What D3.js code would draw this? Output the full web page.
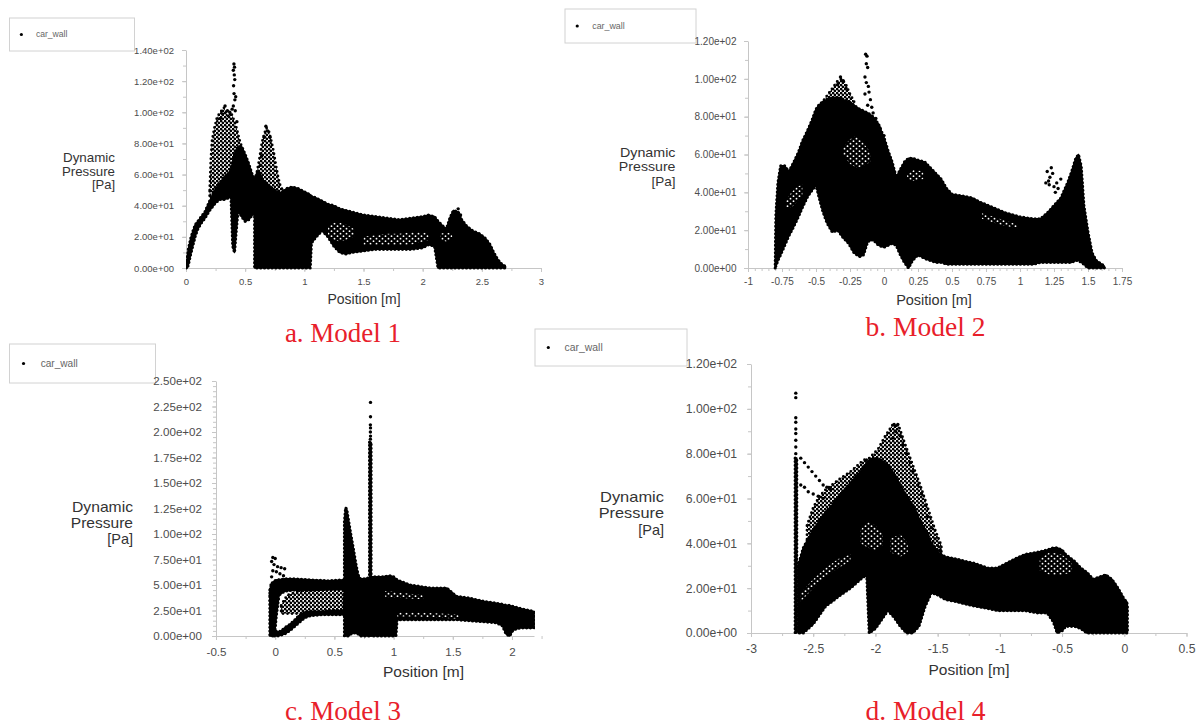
<!DOCTYPE html>
<html>
<head>
<meta charset="utf-8">
<script src="https://cdn.jsdelivr.net/npm/d3@7"></script>
<style>
  html, body { margin: 0; padding: 0; background: #fff; }
  svg { display: block; }
</style>
</head>
<body>
<svg id="chart" width="1200" height="728"></svg>
<script>
// ---------------------------------------------------------------
// Wall dynamic pressure vs. position, four car models.
// Dense clouds are given as envelopes [x, low, high] (m, Pa),
// medium-density clouds likewise, gaps inside the dense clouds
// likewise, and isolated wall samples as [x, y].
// ---------------------------------------------------------------

const seriesName = "car_wall";
const captions = ["a. Model 1", "b. Model 2", "c. Model 3", "d. Model 4"];

// ---- Model 1 ----
const model1XTicks = [0, 0.5, 1, 1.5, 2, 2.5, 3];
const model1YTicks = [0, 20, 40, 60, 80, 100, 120, 140];
const model1Dense = [
  [[0,0,0],[0.01,0,6],[0.02,2,12],[0.04,9,19],[0.06,15,24],[0.08,21,28],[0.1,25,30],[0.13,29,33],[0.16,32,36],[0.2,37,43],[0.24,41,49],[0.28,44,54],[0.32,44,58],[0.36,45,61],[0.38,46,63]],
  [[0.38,46,63],[0.395,14,68],[0.41,10,73],[0.425,24,76],[0.44,37,78],[0.47,33,78],[0.5,30,73],[0.53,31,67],[0.56,34,60],[0.58,35,57]],
  [[0.58,0,57],[0.6,0,61],[0.62,0,62],[0.65,0,56],[0.7,0,53],[0.75,0,50],[0.8,0,48],[0.85,0,51],[0.9,0,52],[0.95,0,51],[1.0,0,49],[1.05,0,47],[1.06,16,46],[1.1,20,45],[1.15,24,43],[1.2,20,41],[1.25,14,40],[1.3,10,38],[1.35,9,37],[1.4,10,36],[1.5,11,34],[1.6,12,33],[1.7,12,32],[1.8,12,31],[1.9,12,32],[2.0,13,33],[2.05,15,34],[2.1,14,33],[2.13,0,30],[2.17,0,27],[2.2,0,25],[2.23,0,32],[2.26,0,37],[2.3,0,36],[2.33,0,31],[2.37,0,27],[2.42,0,24],[2.48,0,22],[2.53,0,19],[2.57,0,15],[2.6,0,10],[2.63,0,6],[2.66,0,3],[2.7,0,1]]
];
const model1Sparse = [
  [[0.2,45,50],[0.21,47,70],[0.22,48,82],[0.24,50,90],[0.26,52,96],[0.28,55,99],[0.3,56,101],[0.32,58,103],[0.34,59,100],[0.36,60,97],[0.38,62,100],[0.4,68,96],[0.42,74,92],[0.44,77,86],[0.46,77,80],[0.48,76,77]],
  [[0.6,58,62],[0.62,58,70],[0.64,56,80],[0.66,55,86],[0.68,53,90],[0.7,52,88],[0.72,51,82],[0.74,50,75],[0.76,49,66],[0.78,48,58],[0.8,48,52],[0.82,49,50]]
];
const model1Gaps = [
  [[1.2,21,27],[1.25,18,29],[1.3,17,29],[1.35,18,28],[1.42,20,25]],
  [[1.5,15,20],[1.6,15,21],[1.7,15,22],[1.8,15,22],[1.9,15,23],[2.0,17,23],[2.05,18,22]],
  [[2.15,18,22],[2.2,17,23],[2.25,19,22]]
];
const model1Points = [
  [0.405,131],[0.41,129],[0.40,127],[0.408,124],[0.412,121],[0.402,117],[0.406,112],[0.413,108],[0.40,104],[0.42,110],[0.416,101],
  [0.33,104],[0.35,101],[0.31,99],[0.29,96],[0.37,100],[0.39,102],[0.43,94],
  [0.675,91],[0.69,88],[0.66,84],[0.71,84],[0.64,72],[0.63,66],
  [0.98,15],[0.9,10],[2.3,38],[2.28,36],[2.32,34],[0.405,13],[0.398,18],[0.41,22]
];

// ---- Model 2 ----
const model2XTicks = [-1, -0.75, -0.5, -0.25, 0, 0.25, 0.5, 0.75, 1, 1.25, 1.5, 1.75];
const model2YTicks = [0, 20, 40, 60, 80, 100, 120];
const model2Dense = [
  [[-0.8,0,0],[-0.795,1,28],[-0.78,4,45],[-0.76,7,54],[-0.73,12,54],[-0.7,17,51],[-0.67,21,55],[-0.63,27,61],[-0.6,32,67],[-0.56,38,73],[-0.53,41,78],[-0.5,44,84],[-0.48,38,86],[-0.45,30,88],[-0.42,24,89],[-0.38,19,90],[-0.34,20,90],[-0.3,16,89],[-0.26,13,88],[-0.22,8,86],[-0.18,6,84],[-0.15,7,83],[-0.12,14,82],[-0.08,15,80],[-0.04,12,76],[0,11,69],[0.03,12,62],[0.06,13,56],[0.09,12,48],[0.12,7,52],[0.15,3,56],[0.18,0,58],[0.21,4,58],[0.25,7,57],[0.3,5,56],[0.34,4,53],[0.38,3,50],[0.42,3,47],[0.46,2,42],[0.5,2,39],[0.58,2,38],[0.65,2,37],[0.7,2,35],[0.8,2,32],[0.9,2,29],[1.0,2,27],[1.1,2,26],[1.15,3,26],[1.2,3,29],[1.25,3,33],[1.3,3,37],[1.35,3,45],[1.38,3,51],[1.41,4,58],[1.43,4,60],[1.45,3,54],[1.47,2,33],[1.5,0,19],[1.53,0,8],[1.56,0,4],[1.6,0,2],[1.62,0,1]]
];
const model2Sparse = [
  [[-0.46,86,87],[-0.42,88,91],[-0.38,89,95],[-0.34,89,99],[-0.31,89,100],[-0.28,88,97],[-0.25,87,92],[-0.22,86,88]]
];
const model2Gaps = [
  [[-0.3,60,64],[-0.25,55,68],[-0.2,53,70],[-0.15,54,66],[-0.1,56,61]],
  [[-0.72,32,36],[-0.68,32,40],[-0.64,35,43],[-0.6,38,44]],
  [[0.17,47,50],[0.22,46,52],[0.29,47,51]],
  [[0.72,26,29],[0.85,23,26],[0.98,21,23]]
];
const model2Points = [
  [-0.135,113],[-0.125,112],[-0.13,108],[-0.12,106],[-0.14,101],[-0.13,98],[-0.115,96],[-0.11,93],[-0.14,92],[-0.1,89],[-0.12,86],[-0.09,85],[-0.08,82],
  [-0.32,101],[-0.3,99],[-0.34,97],[-0.28,95],
  [1.2,51],[1.23,53],[1.22,48],[1.19,45],[1.215,44],[1.25,43],[1.27,45],[1.28,42],[1.26,40],[1.3,47],[1.24,50],[1.21,46],
  [-0.06,79],[-0.03,74],[0.0,70]
];

// ---- Model 3 ----
const model3XTicks = [-0.5, 0, 0.5, 1, 1.5, 2];
const model3YTicks = [0, 25, 50, 75, 100, 125, 150, 175, 200, 225, 250];
const model3Dense = [
  [[-0.045,0,45],[-0.025,0,52],[-0.005,2,54],[0.01,20,55],[0.03,38,55]],
  [[0.03,40,55],[0.08,44,56],[0.15,45,56],[0.3,45,55],[0.45,46,54],[0.585,46,55]],
  [[-0.02,0,6],[0.02,0,4],[0.05,1,5],[0.08,2,8],[0.12,5,11],[0.16,9,15],[0.2,13,20],[0.25,18,23],[0.3,20,24],[0.4,21,24],[0.5,21,25],[0.585,21,25]],
  [[0.585,0,112],[0.595,0,126],[0.605,0,124],[0.62,0,113],[0.64,2,99],[0.66,3,86],[0.68,3,72],[0.7,2,60],[0.72,0,56],[0.75,0,56],[0.797,0,57]],
  [[0.797,0,190],[0.81,0,190]],
  [[0.81,0,58],[0.9,0,58],[0.97,0,59],[1.0,0,58],[1.02,0,56],[1.03,16,55],[1.14,16,50],[1.31,16,47],[1.45,16,47],[1.53,16,39],[1.645,15,37],[1.76,14,34],[1.87,13,32],[1.92,10,31],[1.95,2,30],[1.98,0,30],[2.01,6,29],[2.07,8,27],[2.186,8,24]]
];
const model3Sparse = [
  [[0.05,22,30],[0.1,22,40],[0.2,22,44],[0.3,24,45],[0.45,24,46],[0.585,25,46]]
];
const model3Gaps = [
  [[1.03,19,23],[1.2,19,23],[1.4,18,22],[1.55,17,21]],
  [[0.93,38,44],[1.1,37,42],[1.25,36,40]]
];
const model3Points = [
  [-0.02,77],[0.0,76],[-0.03,73],[-0.01,70],[0.02,68],[0.05,67],[0.08,66],[-0.02,64],[0.01,63],[0.04,61],[0.07,59],[-0.03,58],
  [-0.035,50],[-0.04,46],[-0.042,40],[-0.04,35],
  [0.805,229],[0.805,215],[0.804,207],[0.805,204],[0.804,200],[0.805,196],[0.804,193]
];

// ---- Model 4 ----
const model4XTicks = [-3, -2.5, -2, -1.5, -1, -0.5, 0, 0.5];
const model4YTicks = [0, 20, 40, 60, 80, 100, 120];
const model4Dense = [
  [[-2.645,0,78],[-2.632,0,78]],
  [[-2.62,0,30],[-2.58,0,38],[-2.54,2,42],[-2.5,4,46],[-2.45,8,50],[-2.4,12,54],[-2.35,14,57],[-2.28,17,62],[-2.2,20,67],[-2.12,24,72],[-2.07,26,76],[-2.05,0,77],[-2.0,2,78],[-1.95,6,77],[-1.9,10,75],[-1.85,7,71],[-1.8,3,66],[-1.75,0,61],[-1.7,0,57],[-1.65,3,51],[-1.6,12,46],[-1.55,18,40],[-1.5,17,36]],
  [[-1.5,17,36],[-1.44,15,34],[-1.35,14,33],[-1.28,13,32],[-1.2,12,31],[-1.1,11,29],[-1.02,10,29],[-0.95,10,31],[-0.88,10,33],[-0.8,10,35],[-0.7,9,36],[-0.62,9,37],[-0.57,5,38],[-0.54,0,38],[-0.5,1,37],[-0.47,3,35],[-0.4,3,32],[-0.35,2,29],[-0.3,0,27],[-0.25,0,24],[-0.2,0,25],[-0.15,0,26],[-0.1,0,24],[-0.05,0,20],[-0.02,0,17],[0.0,0,15],[0.02,0,14],[0.025,0,12]]
];
const model4Sparse = [
  [[-2.05,77,78],[-1.98,78,82],[-1.92,75,88],[-1.86,71,93],[-1.81,66,92],[-1.76,61,84],[-1.7,57,75],[-1.64,50,66],[-1.58,44,56],[-1.52,38,46],[-1.47,35,39]],
  [[-2.55,40,48],[-2.5,45,56],[-2.45,49,61],[-2.4,53,64],[-2.35,56,66],[-2.28,61,69],[-2.2,66,72],[-2.12,71,76],[-2.07,75,78]]
];
const model4Gaps = [
  [[-2.12,40,46],[-2.06,38,50],[-2.0,37,48],[-1.94,39,44]],
  [[-2.6,14,18],[-2.5,20,24],[-2.4,25,29],[-2.3,29,33],[-2.2,32,35]],
  [[-0.68,28,33],[-0.6,26,36],[-0.5,26,35],[-0.42,27,31]],
  [[-1.88,36,42],[-1.8,34,44],[-1.74,36,40]]
];
const model4Points = [
  [-2.64,107],[-2.64,105],[-2.64,96],[-2.64,94],[-2.64,91],[-2.64,89],[-2.64,86],[-2.64,83],[-2.64,80],
  [-2.6,78],[-2.57,76],[-2.54,74],[-2.51,72],[-2.48,70],[-2.45,68],[-2.42,66],[-2.39,65],[-2.36,64],
  [-2.6,66],[-2.57,65],[-2.54,63],[-2.5,62],[-2.46,61],[-2.42,60],
  [-1.85,93],[-1.82,93],[-1.84,90],[-1.8,88],[-1.86,87],[-1.78,84],[-1.75,80],[-1.72,76],[-1.7,72],[-1.66,66],[-1.63,62],[-1.6,57],[-1.58,52],[-1.55,47],[-1.52,42],[-1.5,39],[-1.48,37],
  [-1.76,5]
];

// ---------------------------------------------------------------
// Layout of the four panels (pixels) and their text sizes
// ---------------------------------------------------------------
const panels = [
  { key: "m1", caption: captions[0], xDomain: [0, 3], yDomain: [0, 140],
    xTicks: model1XTicks, yTicks: model1YTicks, xMinor: 0.25, yMinor: 10,
    dense: model1Dense, sparse: model1Sparse, gaps: model1Gaps, points: model1Points,
    frame: { left: 186, right: 541, top: 50, bottom: 268 },
    tickFont: 9.5, xPad: 10, yPad: 8, titleFont: 13, titleWidth: 52,
    xTitle: [364, 299], yTitle: { right: 115, rows: [158, 171.5, 185] },
    legend: { x: 9.5, y: 18, w: 125, h: 33, font: 8.6 },
    cap: { x: 343, y: 342, font: 27 } },
  { key: "m2", caption: captions[1], xDomain: [-1, 1.75], yDomain: [0, 120],
    xTicks: model2XTicks, yTicks: model2YTicks, xMinor: 0.05, yMinor: 10,
    dense: model2Dense, sparse: model2Sparse, gaps: model2Gaps, points: model2Points,
    frame: { left: 748, right: 1122, top: 41, bottom: 268 },
    tickFont: 10, xPad: 10, yPad: 7.5, titleFont: 13.5, titleWidth: 55.5,
    xTitle: [934, 300], yTitle: { right: 675.5, rows: [153, 167, 181.5] },
    legend: { x: 565, y: 9, w: 131, h: 34, font: 8.9 },
    cap: { x: 925.5, y: 336, font: 27.5 } },
  { key: "m3", caption: captions[2], xDomain: [-0.5, 2.186], yDomain: [0, 250],
    xTicks: model3XTicks, yTicks: model3YTicks, xMinor: 0.25, yMinor: 5,
    dense: model3Dense, sparse: model3Sparse, gaps: model3Gaps, points: model3Points,
    frame: { left: 216, right: 534, top: 381, bottom: 636 },
    tickFont: 11.6, xPad: 12, yPad: 10, titleFont: 14.5, titleWidth: 61,
    xTitle: [423.5, 672], yTitle: { right: 133, rows: [507, 523, 539] },
    legend: { x: 9.5, y: 344, w: 146, h: 39, font: 10.1 },
    cap: { x: 343, y: 720, font: 27 } },
  { key: "m4", caption: captions[3], xDomain: [-3, 0.5], yDomain: [0, 120],
    xTicks: model4XTicks, yTicks: model4YTicks, xMinor: 0.25, yMinor: 10,
    dense: model4Dense, sparse: model4Sparse, gaps: model4Gaps, points: model4Points,
    frame: { left: 751, right: 1186.5, top: 364, bottom: 633 },
    tickFont: 12.2, xPad: 11.5, yPad: 10, titleFont: 14.5, titleWidth: 64,
    xTitle: [969, 670], yTitle: { right: 664, rows: [497, 513.5, 530] },
    legend: { x: 535, y: 329, w: 152, h: 37, font: 10.4 },
    cap: { x: 925.5, y: 720, font: 27.5 } }
];

const SANS = "'Liberation Sans', Arial, Helvetica, sans-serif";
const SERIF = "'Liberation Serif', 'Times New Roman', Times, serif";
const AXIS_GREY = "#c6c6c6";
const LABEL_GREY = "#4d4d4d";
const TITLE_GREY = "#333";
const CAPTION_RED = "#e8202a";

// 1.40e+02 style labels
function sci(v) {
  if (v === 0) return "0.00e+00";
  const e = Math.floor(Math.log10(Math.abs(v)) + 1e-9);
  const m = v / Math.pow(10, e);
  return m.toFixed(2) + "e" + (e < 0 ? "-" : "+") + String(Math.abs(e)).padStart(2, "0");
}
function stepValues(domain, step) {
  const n = Math.round((domain[1] - domain[0]) / step + 1e-6);
  return d3.range(n + 1).map(i => +(domain[0] + i * step).toFixed(6));
}

const svg = d3.select("#chart");
const defs = svg.append("defs");

// medium-density cloud texture
const dots = defs.append("pattern").attr("id", "dots")
  .attr("patternUnits", "userSpaceOnUse").attr("width", 4).attr("height", 4);
dots.append("circle").attr("cx", 1).attr("cy", 1).attr("r", 1.4).attr("fill", "#000");
dots.append("circle").attr("cx", 3).attr("cy", 3).attr("r", 1.4).attr("fill", "#000");

// gaps between sample rows inside dense clouds
const gapsPat = defs.append("pattern").attr("id", "gaps")
  .attr("patternUnits", "userSpaceOnUse").attr("width", 6).attr("height", 5);
gapsPat.append("rect").attr("width", 6).attr("height", 5).attr("fill", "#000");
gapsPat.append("circle").attr("cx", 1.5).attr("cy", 1.2).attr("r", 0.9).attr("fill", "#fff");
gapsPat.append("circle").attr("cx", 4.5).attr("cy", 3.7).attr("r", 0.9).attr("fill", "#fff");

function drawPanel(p) {
  const f = p.frame;
  const x = d3.scaleLinear().domain(p.xDomain).range([f.left, f.right]);
  const y = d3.scaleLinear().domain(p.yDomain).range([f.bottom, f.top]);
  const g = svg.append("g").attr("class", "panel-" + p.key);

  // legend
  const lg = g.append("g").attr("class", "legend");
  lg.append("rect").attr("x", p.legend.x).attr("y", p.legend.y)
    .attr("width", p.legend.w).attr("height", p.legend.h)
    .attr("fill", "#fff").attr("stroke", "#d2d2d2").attr("stroke-width", 1);
  lg.append("circle").attr("cx", p.legend.x + p.legend.h * 0.36).attr("cy", p.legend.y + p.legend.h / 2)
    .attr("r", 1.6).attr("fill", "#000");
  lg.append("text").attr("x", p.legend.x + p.legend.h * 0.8).attr("y", p.legend.y + p.legend.h / 2 + p.legend.font * 0.33)
    .attr("font-family", SANS).attr("font-size", p.legend.font).attr("fill", "#666")
    .text(seriesName);

  // minor ticks
  g.append("g").attr("transform", `translate(0,${f.bottom})`)
    .call(d3.axisBottom(x).tickValues(stepValues(p.xDomain, p.xMinor)).tickSize(3).tickSizeOuter(0).tickFormat(""))
    .call(s => s.select(".domain").remove())
    .call(s => s.selectAll("line").attr("stroke", AXIS_GREY));
  g.append("g").attr("transform", `translate(${f.left},0)`)
    .call(d3.axisLeft(y).tickValues(stepValues(p.yDomain, p.yMinor)).tickSize(3).tickSizeOuter(0).tickFormat(""))
    .call(s => s.select(".domain").remove())
    .call(s => s.selectAll("line").attr("stroke", AXIS_GREY));

  // major axes
  const xAxis = g.append("g").attr("transform", `translate(0,${f.bottom})`)
    .call(d3.axisBottom(x).tickValues(p.xTicks).tickSize(4).tickSizeOuter(0)
      .tickPadding(p.xPad - 4).tickFormat(v => String(v)));
  const yAxis = g.append("g").attr("transform", `translate(${f.left},0)`)
    .call(d3.axisLeft(y).tickValues(p.yTicks).tickSize(4).tickSizeOuter(0)
      .tickPadding(p.yPad).tickFormat(sci));
  [xAxis, yAxis].forEach(a => {
    a.select(".domain").attr("stroke", AXIS_GREY);
    a.selectAll(".tick line").attr("stroke", AXIS_GREY);
    a.selectAll(".tick text").attr("fill", LABEL_GREY)
      .attr("font-family", SANS).attr("font-size", p.tickFont);
  });

  // axis titles
  g.append("text").attr("x", p.xTitle[0]).attr("y", p.xTitle[1] + p.titleFont * 0.36)
    .attr("text-anchor", "middle").attr("font-family", SANS).attr("font-size", p.titleFont + 1)
    .attr("fill", TITLE_GREY).text("Position [m]");
  const rows = ["Dynamic", "Pressure", "[Pa]"];
  rows.forEach((t, i) => {
    const txt = g.append("text").attr("x", p.yTitle.right).attr("y", p.yTitle.rows[i] + p.titleFont * 0.33)
      .attr("text-anchor", "end").attr("font-family", SANS).attr("font-size", p.titleFont)
      .attr("fill", TITLE_GREY).text(t);
    // the axis title is drawn slightly wide, as on the original plots
    if (i === 0) txt.attr("textLength", p.titleWidth).attr("lengthAdjust", "spacingAndGlyphs");
    if (i === 1) txt.attr("textLength", p.titleWidth * 1.02).attr("lengthAdjust", "spacingAndGlyphs");
  });

  // samples
  const clipId = "clip-" + p.key;
  defs.append("clipPath").attr("id", clipId).append("rect")
    .attr("x", f.left).attr("y", f.top - 10)
    .attr("width", f.right - f.left + 1).attr("height", f.bottom - f.top + 12);
  const marks = g.append("g").attr("clip-path", `url(#${clipId})`);
  const band = d3.area().x(d => x(d[0])).y0(d => y(d[1])).y1(d => y(d[2]));

  marks.selectAll("path.sparse").data(p.sparse).join("path").attr("class", "sparse")
    .attr("d", band).attr("fill", "url(#dots)");
  // scalloped outline: a row of sample dots along each medium-density boundary
  marks.selectAll("path.sparse-edge").data(p.sparse).join("path").attr("class", "sparse-edge")
    .attr("d", band).attr("fill", "none").attr("stroke", "#000")
    .attr("stroke-width", 2.8).attr("stroke-linecap", "round").attr("stroke-dasharray", "0 4.5");
  marks.selectAll("path.dense").data(p.dense).join("path").attr("class", "dense")
    .attr("d", band).attr("fill", "#000").attr("stroke", "#000")
    .attr("stroke-width", 1.6).attr("stroke-linejoin", "round");
  marks.selectAll("path.dense-edge").data(p.dense).join("path").attr("class", "dense-edge")
    .attr("d", band).attr("fill", "none").attr("stroke", "#000")
    .attr("stroke-width", 3.2).attr("stroke-linecap", "round").attr("stroke-dasharray", "0 3.8");
  marks.selectAll("path.gap").data(p.gaps).join("path").attr("class", "gap")
    .attr("d", band).attr("fill", "url(#gaps)");
  marks.selectAll("circle.pt").data(p.points).join("circle").attr("class", "pt")
    .attr("cx", d => x(d[0])).attr("cy", d => y(d[1])).attr("r", 1.7).attr("fill", "#000");

  // caption
  g.append("text").attr("x", p.cap.x).attr("y", p.cap.y)
    .attr("text-anchor", "middle").attr("font-family", SERIF).attr("font-size", p.cap.font)
    .attr("fill", CAPTION_RED).text(p.caption);
}

panels.forEach(drawPanel);
</script>
</body>
</html>
